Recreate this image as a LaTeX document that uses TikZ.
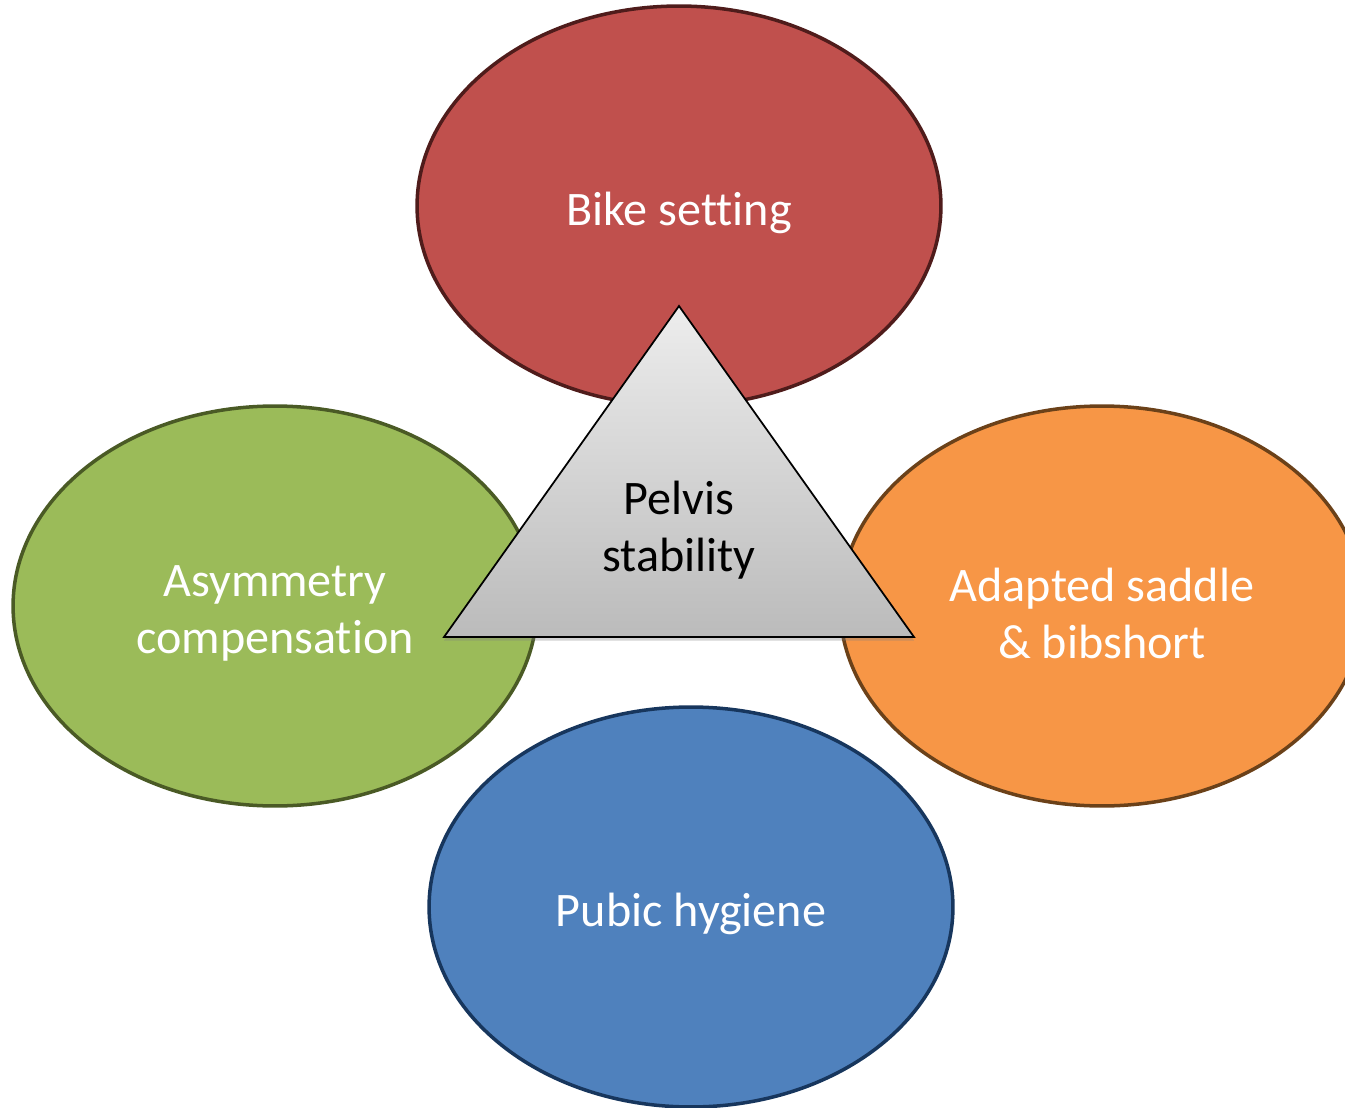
\documentclass[tikz,border=0pt]{standalone}
\usepackage{fontspec}
\setmainfont[Ligatures=NoCommon]{Carlito}
\usetikzlibrary{shapes.geometric,shadows}

\definecolor{bikefill}{HTML}{C0504D}
\definecolor{bikeline}{HTML}{4F1C1B}
\definecolor{asymfill}{HTML}{9BBB59}
\definecolor{asymline}{HTML}{4A5A25}
\definecolor{saddlefill}{HTML}{F79646}
\definecolor{saddleline}{HTML}{6B4119}
\definecolor{hygfill}{HTML}{4F81BD}
\definecolor{hygline}{HTML}{17365D}
\definecolor{tritop}{HTML}{EDEDED}
\definecolor{tribottom}{HTML}{BBBBBB}

\begin{document}
\begin{tikzpicture}[
    x=0.02cm, y=-0.02cm,
    blob/.style={
        ellipse, line width=2pt,
        minimum width=10.48cm, minimum height=8cm
    },
    lbl/.style={
        align=center, text=white, yshift=-4pt,
        font=\fontsize{27.4}{32.5}\selectfont
    },
    tri/.style={
        draw=black, line width=1pt, line join=miter,
        top color=tritop, bottom color=tribottom,
        drop shadow={shadow xshift=0pt, shadow yshift=-2pt, opacity=0.35}
    },
]
\useasboundingbox (0,0) rectangle (1345,1108);

% Ellipses
\node[blob, fill=bikefill, draw=bikeline,
      label={[lbl]center:Bike setting}] (bike) at (679,206) {};
\node[blob, fill=asymfill, draw=asymline,
      label={[lbl]center:Asymmetry\\compensation}] (asym) at (275,606) {};
\node[blob, fill=saddlefill, draw=saddleline,
      label={[lbl]center:Adapted saddle\\\& bibshort}] (saddle) at (1102,606) {};
\node[blob, fill=hygfill, draw=hygline,
      label={[lbl]center:Pubic hygiene}] (hygiene) at (691,907) {};

% Centre triangle
\coordinate (apex) at (679,306);
\coordinate (baseR) at (914,637);
\coordinate (baseL) at (444,637);
\draw[tri] (apex) -- (baseR) -- (baseL) -- cycle;
\node[align=center, font=\fontsize{27.4}{32.5}\selectfont] (pelvis) at (679,530) {Pelvis\\stability};

\end{tikzpicture}
\end{document}
